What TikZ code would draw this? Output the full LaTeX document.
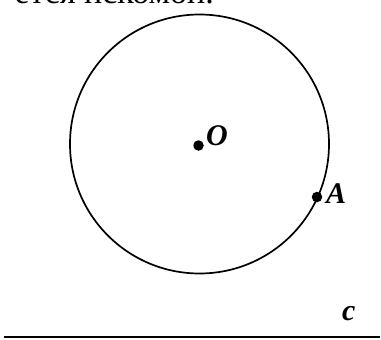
\documentclass[tikz,border=0pt]{standalone}
\usepackage{fontspec}
\setmainfont{Liberation Serif}
\usepackage{tikz}
\usetikzlibrary{positioning}
\tikzset{
  pointdot/.style={circle, fill=black, inner sep=0pt, minimum size=10.5pt},
  ptlabel/.style={anchor=base west, inner sep=0pt, font=\bfseries\itshape\fontsize{30}{32}\selectfont},
}

\begin{document}
\begin{tikzpicture}[x=1pt,y=-1pt]
\useasboundingbox (0,0) rectangle (381,340);
\clip (0,0) rectangle (381,340);

% cut-off line of text above the figure
\node[anchor=base east, inner sep=0pt, font=\fontsize{34}{36}\selectfont] (caption) at (214,4) {ется искомой.};

% circle with centre O and point A on it
\coordinate (O) at (199.5,144);
\draw[line width=1.7pt] (O) circle[radius=129.5pt];
\node[pointdot] (Odot) at (198.5,145.5) {};
\node[ptlabel] (Olabel) at (206,145) {O};
\node[pointdot] (Adot) at (317,197) {};
\node[ptlabel] (Alabel) at (326,203) {A};

% line c
\coordinate (cL) at (4,337);
\coordinate (cR) at (380,337);
\draw[line width=2pt] (cL) -- (cR);
\node[ptlabel] (clabel) at (342,320) {c};
\end{tikzpicture}
\end{document}
